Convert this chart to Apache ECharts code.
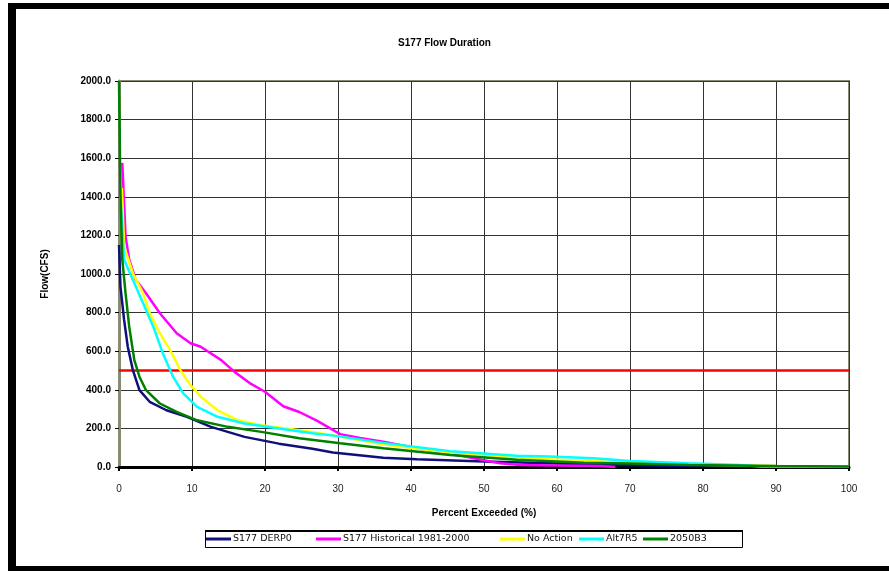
<!DOCTYPE html>
<html>
<head>
<meta charset="utf-8">
<script src="https://cdn.jsdelivr.net/npm/echarts@6/dist/echarts.min.js"></script>
<style>html,body{margin:0;padding:0;background:#fff;}#c{width:889px;height:571px;}</style>
</head>
<body>
<div id="c"></div>
<script>
var xTicks = [0, 10, 20, 30, 40, 50, 60, 70, 80, 90, 100];
var seriesNames = ['S177 DERP0', 'S177 Historical 1981-2000', 'No Action', 'Alt7R5', '2050B3'];
var derp0 = [[0,1150],[0.2,935],[0.7,762],[1.2,623],[1.9,502],[2.8,398],[4.2,338],[6.5,294],[9.3,260],[12.6,208],[17.2,156],[21.9,121],[26.5,95],[29.3,75],[36.2,48],[40.8,40],[50,28],[59,19],[65,12],[75,6],[85,3],[100,1]];
var historical = [[0.45,1576],[0.9,1195],[1.4,1074],[2.3,970],[3.7,900],[5.6,797],[7.9,693],[9.8,641],[11.2,623],[14,554],[15.8,494],[17.9,435],[20,390],[22.5,315],[24.7,285],[27.1,240],[30.3,170],[33,150],[36.2,131],[40.8,97],[44,75],[47.6,53],[50,35],[52.2,19],[55,10],[60,8],[66,5],[68,0]];
var noAction = [[0.4,1446],[0.7,1143],[1.9,1004],[3.3,900],[4.2,797],[5.6,693],[7,606],[8.4,502],[9.8,424],[11.2,364],[13.5,294],[16.3,242],[19.5,216],[26.5,182],[30,160],[36,118],[45,75],[55,48],[63,32],[70,25],[80,12],[90,5],[100,2]];
var alt7r5 = [[0.2,1400],[0.7,1074],[1.9,970],[3.3,848],[4.7,727],[6,589],[7.4,468],[8.8,381],[10.7,312],[13.5,260],[17.2,225],[21.9,199],[26.5,175],[30,160],[36.2,125],[45.4,82],[54.5,58],[59,55],[65,45],[70,31],[78,19],[85,10],[88,2],[100,0]];
var b2050 = [[0,2000],[0.2,1420],[0.45,1074],[0.9,900],[1.4,727],[2.1,554],[2.8,468],[3.7,398],[5.6,329],[7.9,286],[10.7,242],[14.9,208],[19.5,182],[24.7,149],[30.3,123],[36.2,97],[45.4,62],[54.5,38],[63.7,22],[70,18],[78,10],[90,5],[100,3]];
var threshold = [[0,500],[100,500]];
var colors = ['#10107a', '#ff00ff', '#ffff00', '#00ffff', '#008000'];
var legendLefts = [206, 316, 500, 579, 643];

var chart = echarts.init(document.getElementById('c'), null, {renderer: 'canvas'});
var dataSets = [derp0, historical, noAction, alt7r5, b2050];
var series = [{
  name: 'threshold', type: 'line', data: threshold, symbol: 'none',
  lineStyle: {color: '#ff0000', width: 2.5}, itemStyle: {color: '#ff0000'}, silent: true, z: 2
}];
seriesNames.forEach(function (n, i) {
  series.push({
    name: n, type: 'line', data: dataSets[i], symbol: 'none', smooth: false,
    lineStyle: {color: colors[i], width: 2.5}, itemStyle: {color: colors[i]}, z: 3 + i
  });
});
var legends = seriesNames.map(function (n, i) {
  return {
    data: [n], left: legendLefts[i], top: 534, padding: 0,
    itemWidth: 25, itemHeight: 3, icon: 'rect', itemGap: 0,
    textStyle: {fontSize: 9.5, color: '#111', padding: [0, 0, 0, -3], fontFamily: 'DejaVu Sans'}
  };
});

chart.setOption({
  animation: false,
  textStyle: {fontFamily: 'Liberation Sans'},
  title: {
    text: 'S177 Flow Duration', left: 'center', top: 33,
    textStyle: {fontSize: 10, fontWeight: 'bold', color: '#000', fontFamily: 'Liberation Sans'}
  },
  legend: legends,
  graphic: [
    {type: 'rect', shape: {x: 8, y: 3, width: 881, height: 6}, style: {fill: '#000'}, silent: true},
    {type: 'rect', shape: {x: 8, y: 3, width: 8, height: 568}, style: {fill: '#000'}, silent: true},
    {type: 'rect', shape: {x: 8, y: 566, width: 881, height: 5}, style: {fill: '#000'}, silent: true},
    {type: 'rect', shape: {x: 205.5, y: 531.5, width: 537, height: 16}, style: {fill: null, stroke: '#000', lineWidth: 1}, silent: true},
    {type: 'line', shape: {x1: 205, y1: 531, x2: 743, y2: 531}, style: {stroke: '#000', lineWidth: 2}, silent: true}
  ],
  grid: {
    left: 119, right: 40, top: 81, bottom: 104, containLabel: false,
    show: true, borderColor: '#8a8a72', borderWidth: 2, backgroundColor: 'transparent'
  },
  xAxis: {
    type: 'value', min: 0, max: 100, interval: 10,
    name: 'Percent Exceeded (%)', nameLocation: 'middle', nameGap: 41,
    nameTextStyle: {fontSize: 10, fontWeight: 'bold', color: '#000'},
    axisLine: {show: true, lineStyle: {color: '#000', width: 3}},
    axisTick: {show: true, length: 4, lineStyle: {color: '#000', width: 2}},
    axisLabel: {fontSize: 10, color: '#222', margin: 17,
      formatter: function (v) { return xTicks.indexOf(v) >= 0 ? String(v) : ''; }},
    splitLine: {show: true, lineStyle: {color: '#333', width: 1}}
  },
  yAxis: {
    type: 'value', min: 0, max: 2000, interval: 200,
    name: 'Flow(CFS)', nameLocation: 'middle', nameGap: 69, nameRotate: 90,
    nameTextStyle: {fontSize: 10, fontWeight: 'bold', color: '#000'},
    axisLine: {show: true, lineStyle: {color: '#8a8a72', width: 3}},
    axisTick: {show: true, length: 4, lineStyle: {color: '#000', width: 1}},
    axisLabel: {fontSize: 10, fontWeight: 'bold', color: '#000', margin: 8,
      formatter: function (v) { return v.toFixed(1); }},
    splitLine: {show: true, lineStyle: {color: '#333', width: 1}}
  },
  series: series
});
</script>
</body>
</html>
